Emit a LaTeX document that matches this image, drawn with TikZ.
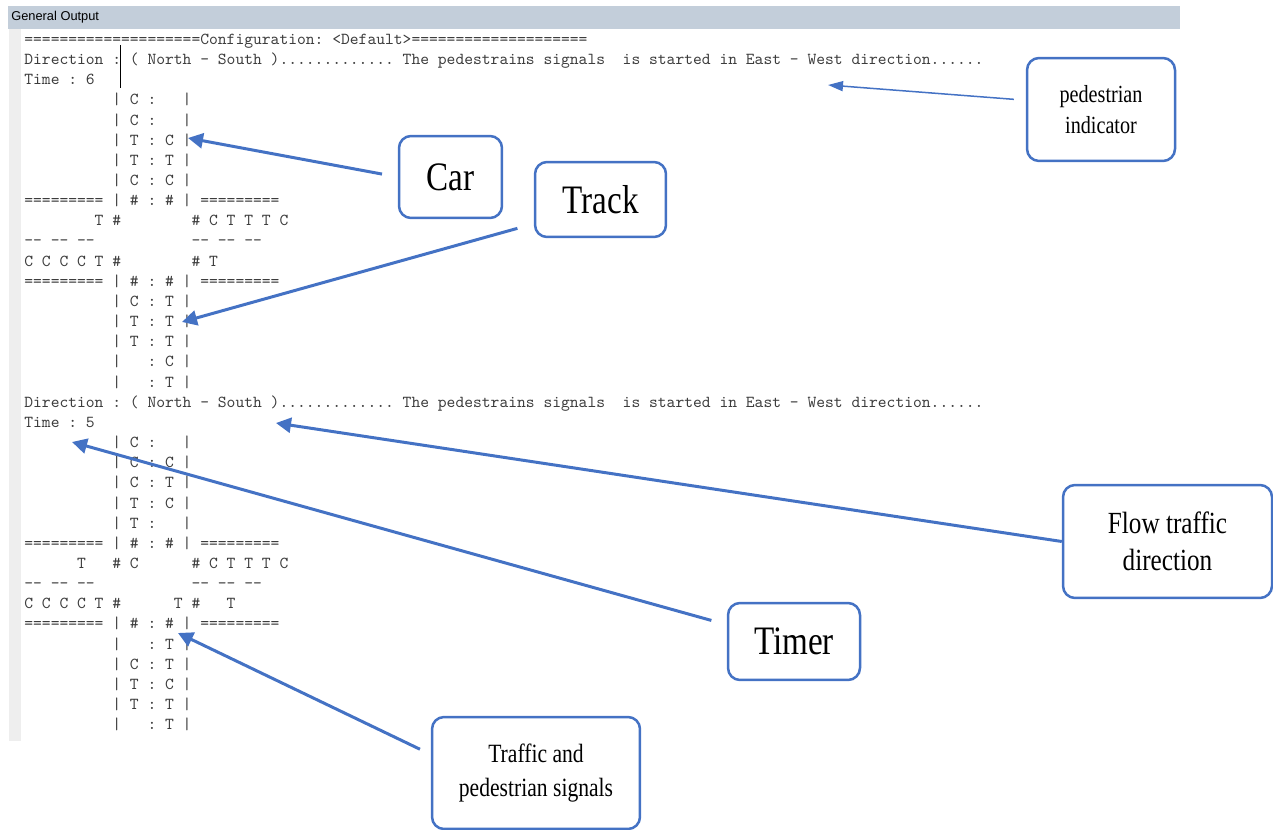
\documentclass[tikz,border=0pt]{standalone}
\usepackage{fontspec}
\setmonofont{lmmono10-regular.otf}
\newfontfamily\boxfont{Liberation Serif}[FakeStretch=0.82]
\newfontfamily\barfont{Liberation Sans}
\usetikzlibrary{arrows.meta}

\definecolor{callblue}{HTML}{4472C4}
\definecolor{bargray}{HTML}{C3CEDA}
\definecolor{guttergray}{HTML}{EEEEEE}
\definecolor{outgray}{HTML}{3C3C3C}

\tikzset{
  outtext/.style={anchor=base west, inner sep=0pt, text=outgray, font=\ttfamily\fontsize{9.54}{12}\selectfont},
  calloutbox/.style={draw=callblue, line width=0.05cm, rounded corners=0.24cm, fill=white, align=center, inner sep=2pt},
  pointer/.style={draw=callblue, line width=0.06cm, -{Triangle[length=0.3cm,width=0.3cm]}},
  thinpointer/.style={draw=callblue, line width=0.03cm, -{Triangle[length=0.3cm,width=0.2cm]}}
}

\begin{document}
\begin{tikzpicture}[x=0.02cm,y=-0.02cm]
\useasboundingbox (0,0) rectangle (1273,830);
\fill[bargray] (8,6) rectangle (1180,29);
\fill[guttergray] (9,29) rectangle (21,741);
\node[anchor=west, inner sep=0pt, font=\barfont\fontsize{7.3}{9}\selectfont] (bar) at (11,17.5) {General Output};

\node[outtext] (ln1) at (24,44.5) {====================Configuration: <Default>====================};
\node[outtext] (ln2) at (24,64.7) {Direction : ( North - South )............. The pedestrains signals~~is started in East - West direction......};
\node[outtext] (ln3) at (24,84.8) {Time : 6};
\node[outtext] (ln4) at (24,105.0) {~~~~~~~~~~| C :~~~|};
\node[outtext] (ln5) at (24,125.1) {~~~~~~~~~~| C :~~~|};
\node[outtext] (ln6) at (24,145.3) {~~~~~~~~~~| T : C |};
\node[outtext] (ln7) at (24,165.4) {~~~~~~~~~~| T : T |};
\node[outtext] (ln8) at (24,185.6) {~~~~~~~~~~| C : C |};
\node[outtext] (ln9) at (24,205.7) {========= | \# : \# | =========};
\node[outtext] (ln10) at (24,225.9) {~~~~~~~~T \#~~~~~~~~\# C T T T C};
\node[outtext] (ln11) at (24,246.0) {-- -- --~~~~~~~~~~~-- -- --};
\node[outtext] (ln12) at (24,266.2) {C C C C T \#~~~~~~~~\# T};
\node[outtext] (ln13) at (24,286.3) {========= | \# : \# | =========};
\node[outtext] (ln14) at (24,306.5) {~~~~~~~~~~| C : T |};
\node[outtext] (ln15) at (24,326.6) {~~~~~~~~~~| T : T |};
\node[outtext] (ln16) at (24,346.8) {~~~~~~~~~~| T : T |};
\node[outtext] (ln17) at (24,366.9) {~~~~~~~~~~|~~~: C |};
\node[outtext] (ln18) at (24,387.1) {~~~~~~~~~~|~~~: T |};
\node[outtext] (ln19) at (24,407.2) {Direction : ( North - South )............. The pedestrains signals~~is started in East - West direction......};
\node[outtext] (ln20) at (24,427.4) {Time : 5};
\node[outtext] (ln21) at (24,447.5) {~~~~~~~~~~| C :~~~|};
\node[outtext] (ln22) at (24,467.7) {~~~~~~~~~~| C : C |};
\node[outtext] (ln23) at (24,487.8) {~~~~~~~~~~| C : T |};
\node[outtext] (ln24) at (24,508.0) {~~~~~~~~~~| T : C |};
\node[outtext] (ln25) at (24,528.1) {~~~~~~~~~~| T :~~~|};
\node[outtext] (ln26) at (24,548.3) {========= | \# : \# | =========};
\node[outtext] (ln27) at (24,568.4) {~~~~~~T~~~\# C~~~~~~\# C T T T C};
\node[outtext] (ln28) at (24,588.6) {-- -- --~~~~~~~~~~~-- -- --};
\node[outtext] (ln29) at (24,608.7) {C C C C T \#~~~~~~T \#~~~T};
\node[outtext] (ln30) at (24,628.9) {========= | \# : \# | =========};
\node[outtext] (ln31) at (24,649.0) {~~~~~~~~~~|~~~: T |};
\node[outtext] (ln32) at (24,669.2) {~~~~~~~~~~| C : T |};
\node[outtext] (ln33) at (24,689.3) {~~~~~~~~~~| T : C |};
\node[outtext] (ln34) at (24,709.5) {~~~~~~~~~~| T : T |};
\node[outtext] (ln35) at (24,729.6) {~~~~~~~~~~|~~~: T |};
\draw[black, line width=0.02cm] (120,45) -- (120,88);

\node[calloutbox, minimum width=2.96cm, minimum height=2.06cm, font=\boxfont\fontsize{14}{18}\selectfont] (ped) at (1101,109.5) {pedestrian\\indicator};
\node[calloutbox, minimum width=2.06cm, minimum height=1.64cm, font=\boxfont\fontsize{23}{26}\selectfont] (car) at (450.5,177) {\raisebox{-3pt}{Car}};
\node[calloutbox, minimum width=2.62cm, minimum height=1.5cm, font=\boxfont\fontsize{23}{26}\selectfont] (track) at (600.5,199.5) {Track};
\node[calloutbox, minimum width=4.18cm, minimum height=2.26cm, font=\boxfont\fontsize{17.5}{21}\selectfont] (flow) at (1167.5,541.5) {Flow traffic\\direction};
\node[calloutbox, minimum width=2.64cm, minimum height=1.54cm, font=\boxfont\fontsize{23}{26}\selectfont] (timer) at (794,641.5) {Timer};
\node[calloutbox, minimum width=4.16cm, minimum height=2.24cm, font=\boxfont\fontsize{15}{19}\selectfont] (signals) at (536,773) {Traffic and\\pedestrian signals};

\coordinate (pedTip) at (828,85);
\coordinate (carTip) at (188,138);
\coordinate (trackTip) at (182,322);
\coordinate (flowTip) at (276,423);
\coordinate (timerTip) at (72,442);
\coordinate (signalTip) at (178,633);

\draw[thinpointer, shorten <=0.24cm] (ped.173) -- (pedTip);
\draw[pointer, shorten <=0.32cm] (car.west) -- (carTip);
\draw[pointer, shorten <=0.34cm] (track.200) -- (trackTip);
\draw[pointer] (flow.west) -- (flowTip);
\draw[pointer, shorten <=0.32cm] (timer.166) -- (timerTip);
\draw[pointer, shorten <=0.24cm] (signals.170) -- (signalTip);
\end{tikzpicture}
\end{document}
